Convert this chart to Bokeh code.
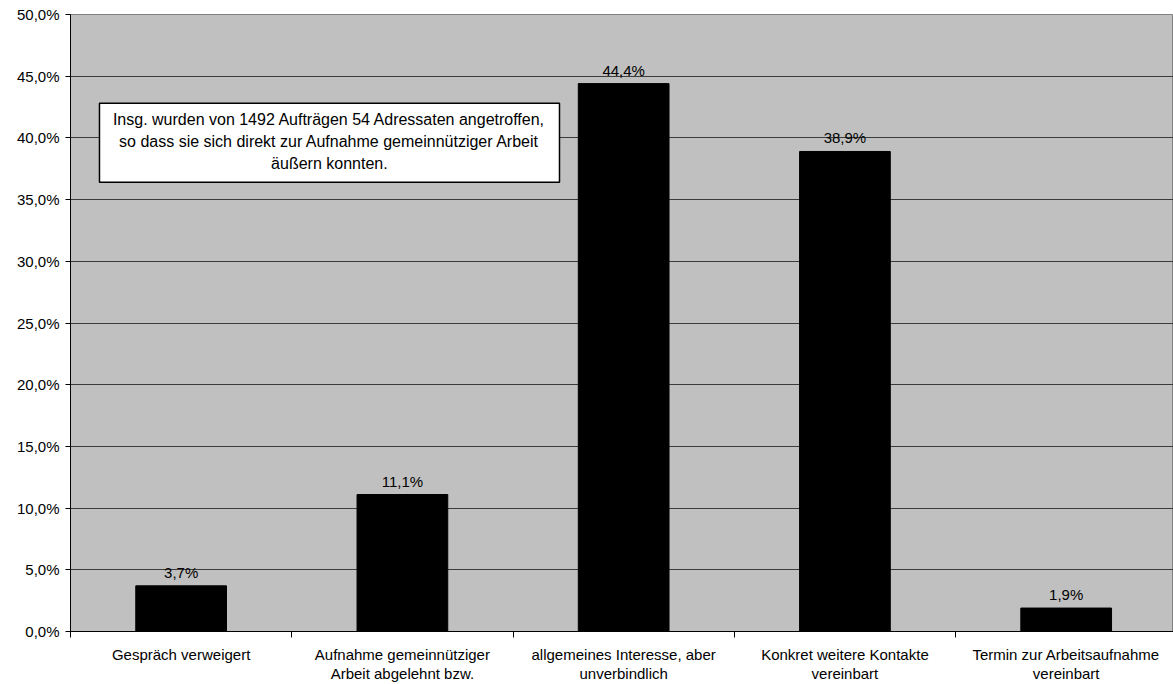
from bokeh.plotting import figure
from bokeh.models import ColumnDataSource, Range1d, FixedTicker, BoxAnnotation, Label
from bokeh.core.properties import value
from bokeh.embed import file_html
from bokeh.resources import INLINE

categories = [
    "Gespräch verweigert",
    "Aufnahme gemeinnütziger\nArbeit abgelehnt bzw.",
    "allgemeines Interesse, aber\nunverbindlich",
    "Konkret weitere Kontakte\nvereinbart",
    "Termin zur Arbeitsaufnahme\nvereinbart",
]
values = [3.7, 11.1, 44.4, 38.9, 1.9]
y_ticks = [0, 5, 10, 15, 20, 25, 30, 35, 40, 45, 50]
y_tick_labels = ["0,0%", "5,0%", "10,0%", "15,0%", "20,0%", "25,0%", "30,0%",
                 "35,0%", "40,0%", "45,0%", "50,0%"]
note = ("Insg. wurden von 1492 Aufträgen 54 Adressaten angetroffen,\n"
        "so dass sie sich direkt zur Aufnahme gemeinnütziger Arbeit\n"
        "äußern konnten.")

FONT = "Liberation Sans"
FS = "15px"

n = len(categories)
centers = [i + 0.5 for i in range(n)]
labels = [("%.1f" % v).replace(".", ",") + "%" for v in values]
src = ColumnDataSource(dict(x=centers, top=values, lab=labels))

p = figure(width=1173, height=684, output_backend="svg", toolbar_location=None,
           x_range=Range1d(0, n - 0.015), y_range=Range1d(0, 50),
           min_border_left=70, min_border_right=0, min_border_top=14,
           min_border_bottom=52)
p.background_fill_color = "#C0C0C0"
p.border_fill_color = "white"
p.outline_line_color = "#808080"

p.vbar(x="x", top="top", bottom=0, width=0.41, source=src,
       fill_color="black", line_color="black")
p.text(x="x", y="top", text="lab", source=src, text_align="center",
       text_baseline="bottom", y_offset=-5, text_font=value(FONT),
       text_font_size=FS, text_color="black")

# y axis
p.yaxis.ticker = FixedTicker(ticks=y_ticks)
p.yaxis.major_label_overrides = {t: l for t, l in zip(y_ticks, y_tick_labels)}
p.yaxis.minor_tick_line_color = None
p.yaxis.major_tick_in = 0
p.yaxis.major_tick_out = 5
p.yaxis.major_label_standoff = 6
p.yaxis.axis_line_color = "black"
p.yaxis.major_tick_line_color = "black"
p.yaxis.major_label_text_font = FONT
p.yaxis.major_label_text_font_size = FS
p.yaxis.major_label_text_color = "black"

# x axis
p.xaxis.ticker = FixedTicker(ticks=centers, minor_ticks=list(range(n + 1)))
p.xaxis.major_label_overrides = {c: cat for c, cat in zip(centers, categories)}
p.xaxis.major_tick_line_color = None
p.xaxis.minor_tick_line_color = "black"
p.xaxis.minor_tick_in = 0
p.xaxis.minor_tick_out = 6
p.xaxis.axis_line_color = "black"
p.xaxis.major_label_standoff = 8
p.xaxis.major_label_text_font = FONT
p.xaxis.major_label_text_font_size = FS
p.xaxis.major_label_text_color = "black"
p.xaxis.major_label_text_line_height = 1.12

p.xgrid.grid_line_color = None
p.ygrid.ticker = FixedTicker(ticks=y_ticks)
p.ygrid.grid_line_color = "#3c3c3c"
p.ygrid.grid_line_width = 1

# annotation box
box = BoxAnnotation(left=0.131, right=2.21, bottom=36.4, top=42.8,
                    fill_color="white", fill_alpha=1.0,
                    line_color="black", line_alpha=1.0, line_width=1.5)
p.add_layout(box)
lbl = Label(x=1.17, y=39.7, text=note, text_align="center",
            text_baseline="middle", text_font=FONT, text_font_size="16px",
            text_color="black", text_line_height=1.28)
p.add_layout(lbl)

open("out.html", "w").write(file_html(p, INLINE))
